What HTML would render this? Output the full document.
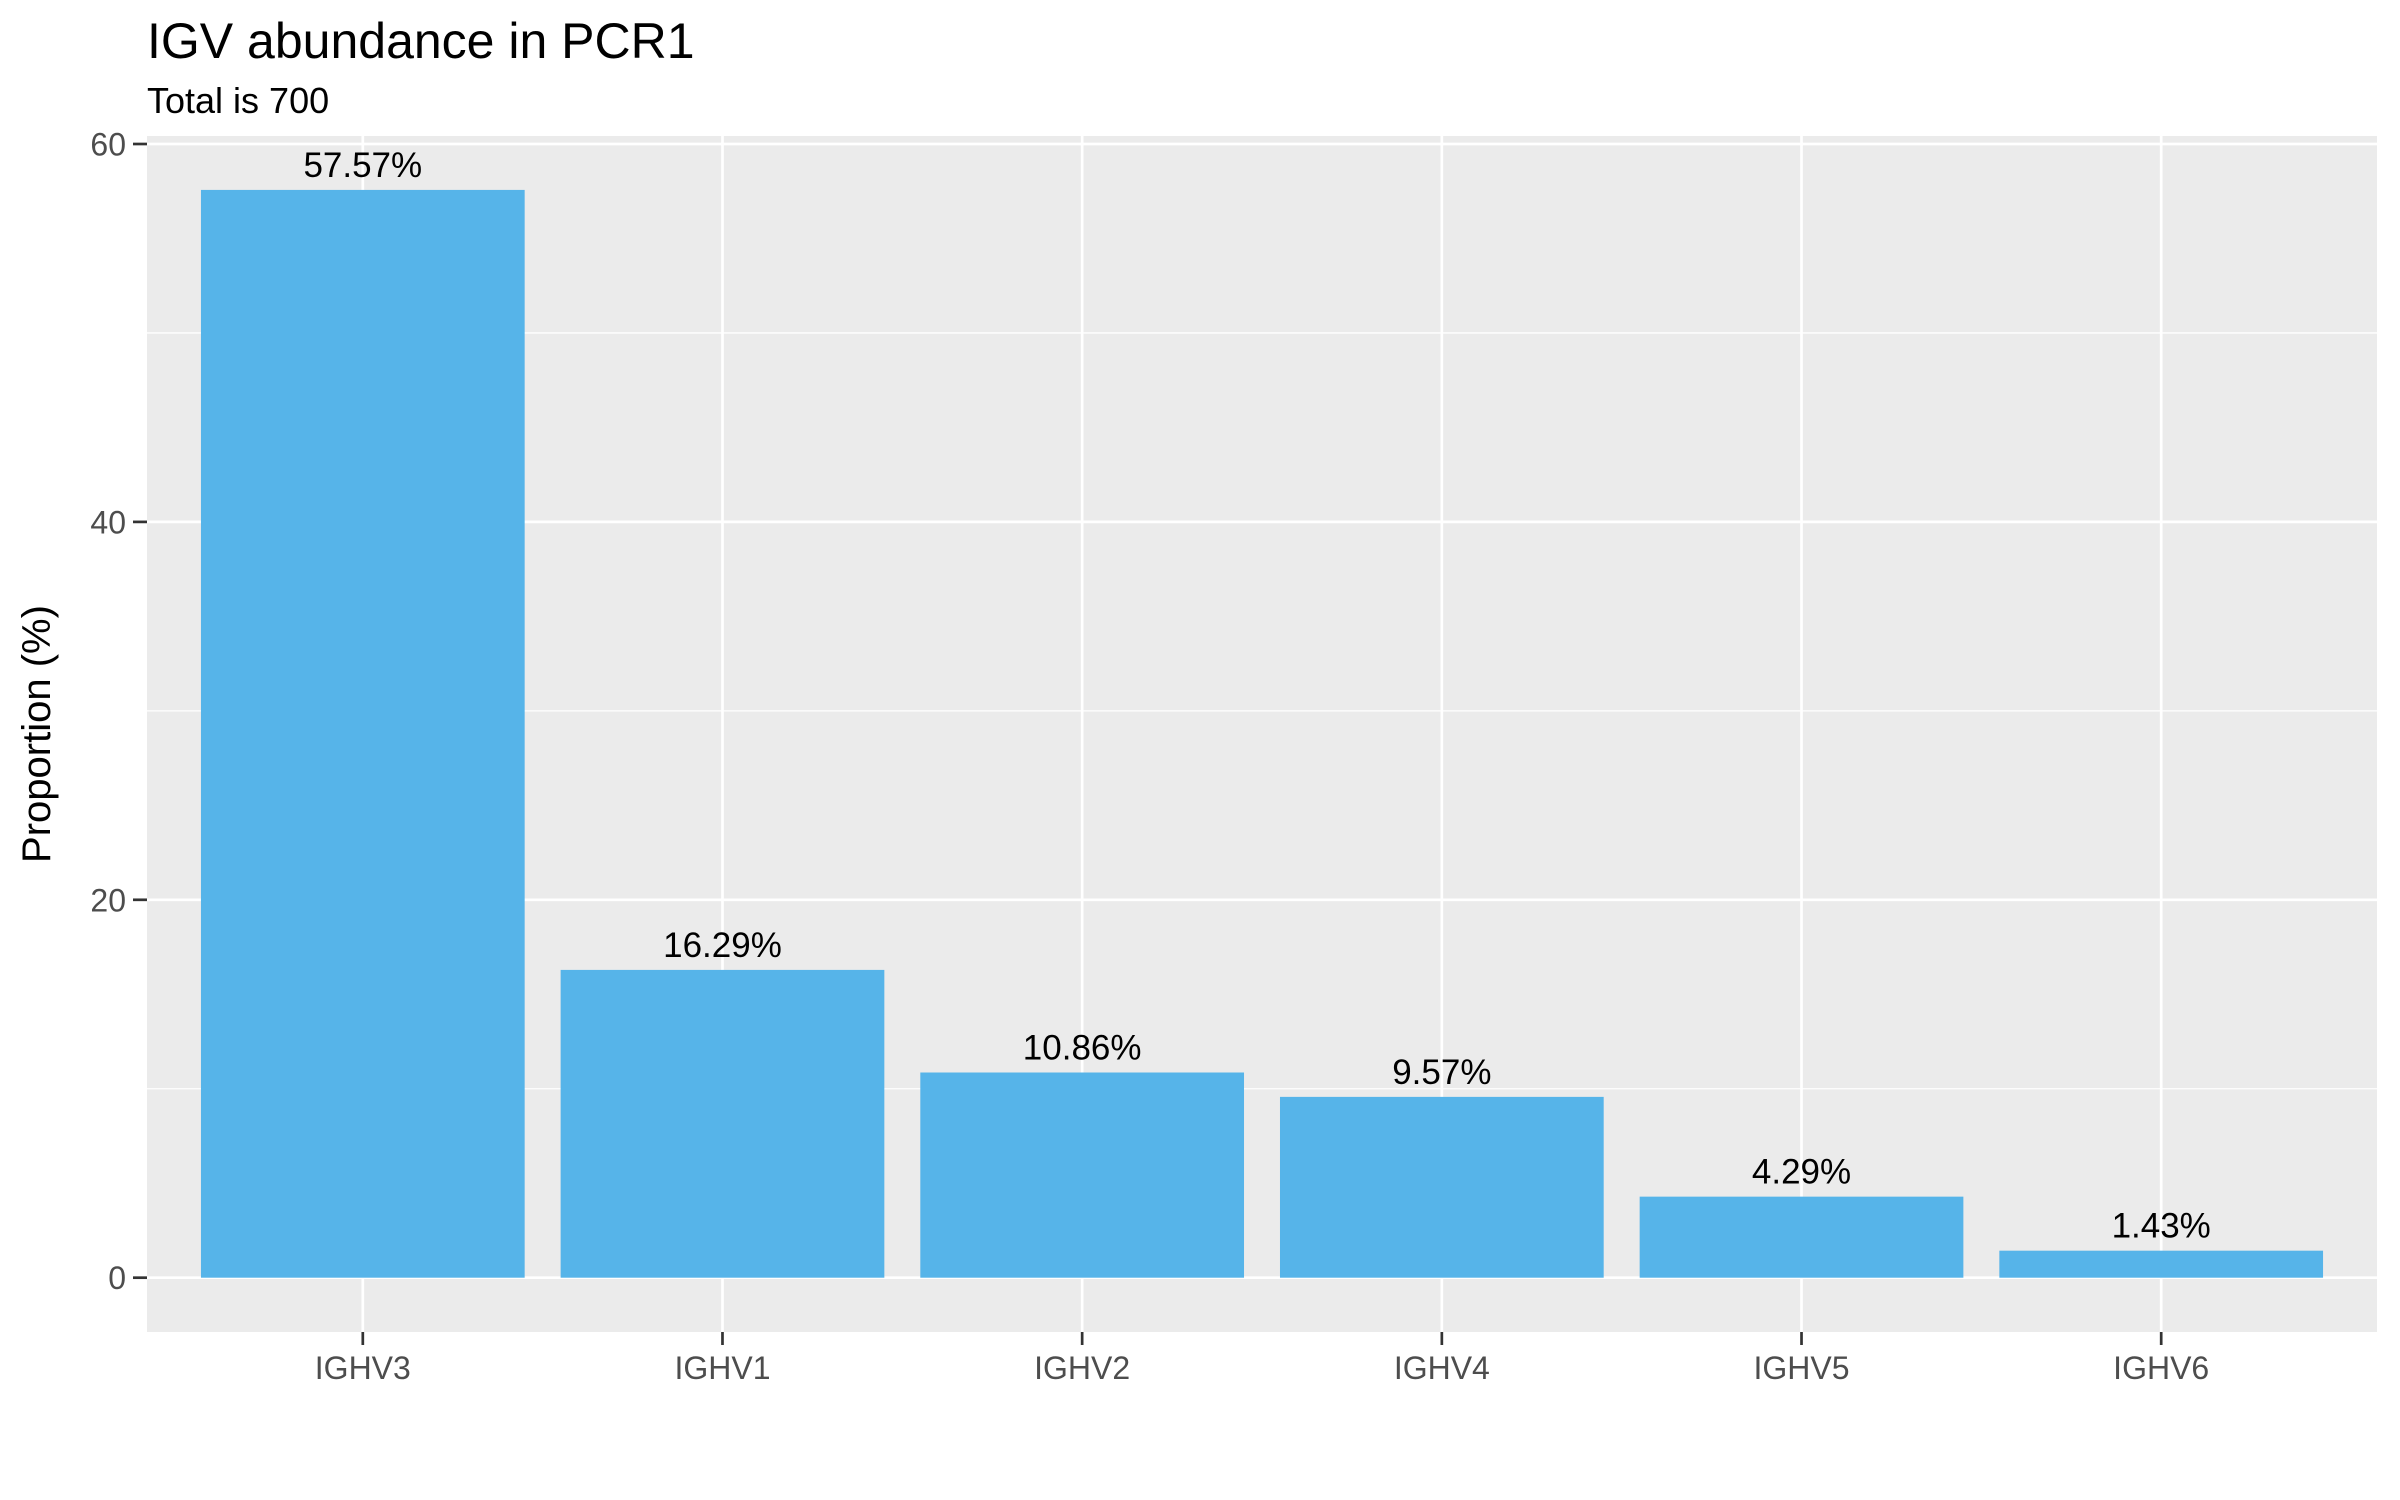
<!DOCTYPE html>
<html><head><meta charset="utf-8"><style>
html,body{margin:0;padding:0;background:#fff;}
svg{display:block;font-family:"Liberation Sans",Arial,sans-serif;}
</style></head><body>
<svg id="chart" width="2400" height="1500" viewBox="0 0 2400 1500">
<text x="147" y="58" font-size="50" fill="#000">IGV abundance in PCR1</text>
<text x="147" y="113" font-size="36" fill="#000">Total is 700</text>
<rect x="147" y="136" width="2230" height="1196" fill="#ebebeb"/>
<g id="grid"></g>
<g id="bars"></g>
<g id="labels"></g>
<g id="yaxis"></g>
<g id="xaxis"></g>
<text transform="translate(50,734) rotate(-90)" text-anchor="middle" font-size="40" fill="#000">Proportion (%)</text>
</svg>
<script>
const categories = ["IGHV3","IGHV1","IGHV2","IGHV4","IGHV5","IGHV6"];
const values = [57.57, 16.29, 10.86, 9.57, 4.29, 1.43];
const valueLabels = ["57.57%","16.29%","10.86%","9.57%","4.29%","1.43%"];
const yTicks = [0, 20, 40, 60];
const yMinor = [10, 30, 50];

const NS = "http://www.w3.org/2000/svg";
const PL = 147, PR = 2377, PT = 136, PB = 1332;
const Y0 = 1277.7, Y60 = 144;
function y(v){ return Y0 + (Y60 - Y0) * v / 60; }
const band = (PR - PL) / (categories.length + 0.2);
function x(i){ return PL + (i + 0.6) * band; }
function mk(tag, attrs, parent){
  const e = document.createElementNS(NS, tag);
  for (const k in attrs) e.setAttribute(k, attrs[k]);
  parent.appendChild(e); return e;
}
const grid = document.getElementById('grid');
yMinor.forEach(v => {
  const l = mk('line', {x1:PL, x2:PR, y1:y(v), y2:y(v), stroke:'#fff', 'stroke-width':1.3}, grid);
  
  
});
yTicks.forEach(v => {
  const l = mk('line', {x1:PL, x2:PR, y1:y(v), y2:y(v), stroke:'#fff', 'stroke-width':2.7}, grid);
  
  
});
categories.forEach((c, i) => {
  const l = mk('line', {x1:x(i), x2:x(i), y1:PT, y2:PB, stroke:'#fff', 'stroke-width':2.7}, grid);
  
  
});
const bars = document.getElementById('bars');
const labels = document.getElementById('labels');
const bw = band * 0.9;
values.forEach((v, i) => {
  const r = mk('rect', {x:x(i) - bw/2, y:y(v), width:bw, height:y(0) - y(v), fill:'#56b4e9'}, bars);
  
  
  const t = mk('text', {x:x(i), y:y(v) - 13, 'text-anchor':'middle', 'font-size':35, fill:'#000'}, labels);
  t.textContent = valueLabels[i];
  
  
});
const ya = document.getElementById('yaxis');
yTicks.forEach(v => {
  const l = mk('line', {x1:133, x2:PL, y1:y(v), y2:y(v), stroke:'#333', 'stroke-width':2.7}, ya);
  
  
  const t = mk('text', {x:126, y:y(v) + 11.5, 'text-anchor':'end', 'font-size':32, fill:'#4d4d4d'}, ya);
  t.textContent = v;
  
  
});
const xa = document.getElementById('xaxis');
categories.forEach((c, i) => {
  const l = mk('line', {x1:x(i), x2:x(i), y1:PB, y2:PB + 13, stroke:'#333', 'stroke-width':2.7}, xa);
  
  
  const t = mk('text', {x:x(i), y:1379, 'text-anchor':'middle', 'font-size':32, fill:'#4d4d4d'}, xa);
  t.textContent = c;
  
  
});
</script>
</body></html>
